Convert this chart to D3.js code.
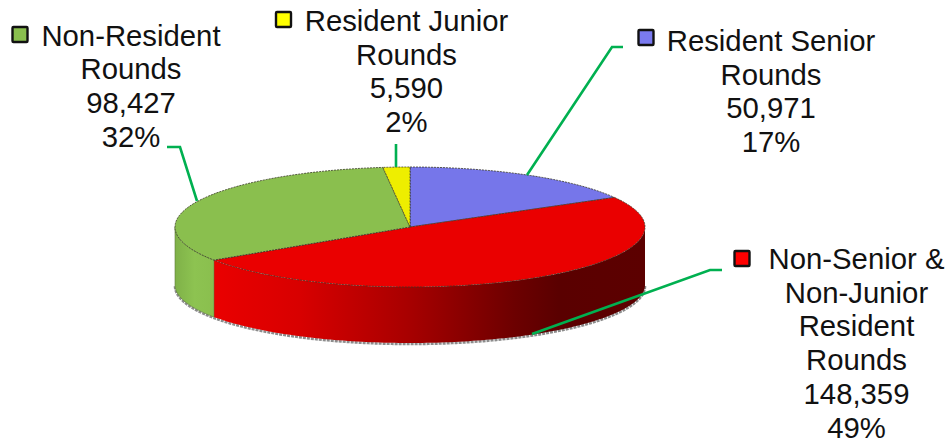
<!DOCTYPE html>
<html><head><meta charset="utf-8">
<script src="https://cdn.jsdelivr.net/npm/d3@7"></script>
<style>html,body{margin:0;background:#fff}svg{display:block}text{font-family:"Liberation Sans",Arial,sans-serif;font-size:29.3px;fill:#111;text-anchor:middle}</style>
</head><body><script>
const categories=["Resident Senior Rounds","Non-Senior & Non-Junior Resident Rounds","Non-Resident Rounds","Resident Junior Rounds"];
const roundsValues=[50971,148359,98427,5590];
const percentLabels=["17%","49%","32%","2%"];
const topColors=["#7676ea","#ea0000","#8abf4e","#eeee00"];
const keyColors=["#7a7af0","#ff0000","#8abf4e","#ffff00"];
const labelLines=[["Resident Senior","Rounds"],["Non-Senior &","Non-Junior","Resident","Rounds"],["Non-Resident","Rounds"],["Resident Junior","Rounds"]];
const labelLayout=[
 {x:771,y:51,kx:638.5,ky:30},
 {x:856.5,y:269,kx:734.5,ky:251},
 {x:131,y:45.5,kx:12.5,ky:27},
 {x:406.5,y:31,kx:276,ky:12}];
const leaders=[
 [[623,47],[612,47],[527,175]],
 [[722,270],[710,270],[532,334]],
 [[167,147],[180,147],[197,201]],
 [[396,144],[396,167]]];
const W=951,H=443,cx=410,cy=227,rx=235,ry=60,depth=58,bottomRy=58;
const svg=d3.select("body").append("svg").attr("width",W).attr("height",H);
const defs=svg.append("defs");
const g1=defs.append("linearGradient").attr("id","redSide").attr("gradientUnits","userSpaceOnUse").attr("x1",213).attr("x2",645).attr("y1",0).attr("y2",0);
[[0,"#ea0000"],[.2,"#d80000"],[.45,"#a80000"],[.7,"#6c0000"],[.8,"#5a0000"],[1,"#5c0000"]].forEach(s=>g1.append("stop").attr("offset",s[0]).attr("stop-color",s[1]));
const g2=defs.append("linearGradient").attr("id","greenSide").attr("gradientUnits","userSpaceOnUse").attr("x1",175).attr("x2",214).attr("y1",0).attr("y2",0);
[[0,"#7fb148"],[.5,"#8dc351"],[1,"#8abf4e"]].forEach(s=>g2.append("stop").attr("offset",s[0]).attr("stop-color",s[1]));
const sx=d3.scaleLinear().domain([-1,1]).range([cx-rx,cx+rx]);
const sy=d3.scaleLinear().domain([-1,1]).range([cy-ry,cy+ry]);
const syB=d3.scaleLinear().domain([-1,1]).range([cy+depth-bottomRy,cy+depth+bottomRy]);
const px=a=>sx(Math.sin(a)),py=a=>sy(-Math.cos(a)),pyB=a=>syB(-Math.cos(a));
const arcs=d3.pie().sort(null).value(d=>d)(roundsValues);
const line=d3.line();
function rim(a0,a1,yf,dy=0){const n=Math.max(2,Math.ceil((a1-a0)/.02));return d3.range(n+1).map(i=>{const a=a0+(a1-a0)*i/n;return [px(a),yf(a)+dy];});}
function wall(a0,a1){return line(rim(a0,a1,py).concat(rim(a0,a1,pyB).reverse()))+"Z";}
const front0=Math.PI/2,front1=Math.PI*1.5;
svg.append("path").attr("d",line(rim(front0,front1,pyB,1))).attr("fill","none").attr("stroke","#8c8c8c").attr("stroke-width",2.6).attr("stroke-dasharray","3 1");
arcs.forEach((d,i)=>{
 const a0=Math.max(d.startAngle,front0),a1=Math.min(d.endAngle,front1);
 if(a1>a0) svg.append("path").attr("d",wall(a0,a1)).attr("fill",i===1?"url(#redSide)":"url(#greenSide)").attr("stroke",i===1?"none":"#5d7a38").attr("stroke-width",.6);
});
arcs.forEach((d,i)=>{
 const pts=[[cx,cy]].concat(rim(d.startAngle,d.endAngle,py));
 svg.append("path").attr("d",line(pts)+"Z").attr("fill",topColors[i]).attr("stroke","#3a3a2a").attr("stroke-width",.8).attr("stroke-dasharray","2 1");
});
leaders.forEach(p=>svg.append("path").attr("d",line(p)).attr("fill","none").attr("stroke","#00b050").attr("stroke-width",2.6));
categories.forEach((c,i)=>{
 const L=labelLayout[i];
 svg.append("rect").attr("x",L.kx).attr("y",L.ky).attr("width",15).attr("height",15).attr("rx",1).attr("fill",keyColors[i]).attr("stroke","#111").attr("stroke-width",2.4);
 const lines=labelLines[i].concat([d3.format(",")(roundsValues[i]),percentLabels[i]]);
 const t=svg.append("text");
 lines.forEach((s,j)=>t.append("tspan").attr("x",L.x).attr("y",L.y+j*33.7).text(s));
});
</script></body></html>
